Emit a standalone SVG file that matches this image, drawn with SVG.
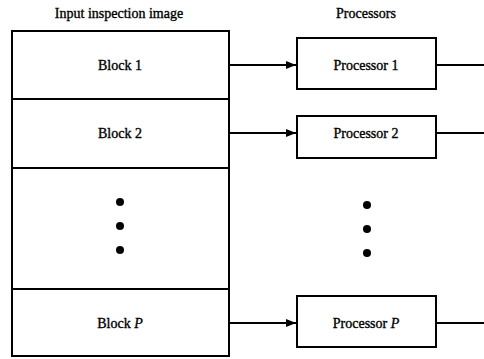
<svg xmlns="http://www.w3.org/2000/svg" width="484" height="359" viewBox="0 0 484 359">
<defs>
<style>
text{font-family:"Liberation Serif","Times New Roman",serif;font-size:14px;fill:#000;stroke:#000;stroke-width:0.35;text-anchor:middle}
.box{fill:#fff;stroke:#000;stroke-width:2}
.ln{stroke:#000;stroke-width:2;fill:none}
</style>
<marker id="ah" viewBox="0 0 10 10" refX="10" refY="5" markerWidth="5" markerHeight="5" orient="auto" markerUnits="strokeWidth"><path d="M0,1 L10,5 L0,9 z" fill="#000"/></marker>
</defs>
<rect width="484" height="359" fill="#fff"/>
<text x="119" y="18">Input inspection image</text>
<text x="366" y="18">Processors</text>
<g id="image">
<rect class="box" x="12" y="31" width="217" height="325"/>
<line class="ln" x1="12" y1="99" x2="229" y2="99"/>
<line class="ln" x1="12" y1="168" x2="229" y2="168"/>
<line class="ln" x1="12" y1="289" x2="229" y2="289"/>
</g>
<g id="block1"><text x="120" y="70">Block 1</text></g>
<g id="block2"><text x="120" y="138">Block 2</text></g>
<g id="blockdots"><circle cx="120" cy="202" r="4"/><circle cx="120" cy="226" r="4"/><circle cx="120" cy="250" r="4"/></g>
<g id="blockP"><text x="120" y="328">Block <tspan font-style="italic">P</tspan></text></g>
<g id="proc1"><rect class="box" x="297" y="38" width="139" height="51"/><text x="366" y="70">Processor 1</text></g>
<g id="proc2"><rect class="box" x="297" y="116" width="139" height="42"/><text x="366" y="138">Processor 2</text></g>
<g id="procdots"><circle cx="367" cy="205" r="4"/><circle cx="367" cy="229" r="4"/><circle cx="367" cy="253" r="4"/></g>
<g id="procP"><rect class="box" x="297" y="296" width="139" height="51"/><text x="366" y="328">Processor <tspan font-style="italic">P</tspan></text></g>
<g id="connectors">
<line class="ln" x1="230" y1="65" x2="296" y2="65" marker-end="url(#ah)"/>
<line class="ln" x1="230" y1="133" x2="296" y2="133" marker-end="url(#ah)"/>
<line class="ln" x1="230" y1="323" x2="296" y2="323" marker-end="url(#ah)"/>
<line class="ln" x1="436" y1="65" x2="484" y2="65"/>
<line class="ln" x1="436" y1="133" x2="484" y2="133"/>
<line class="ln" x1="436" y1="323" x2="484" y2="323"/>
</g>
</svg>
